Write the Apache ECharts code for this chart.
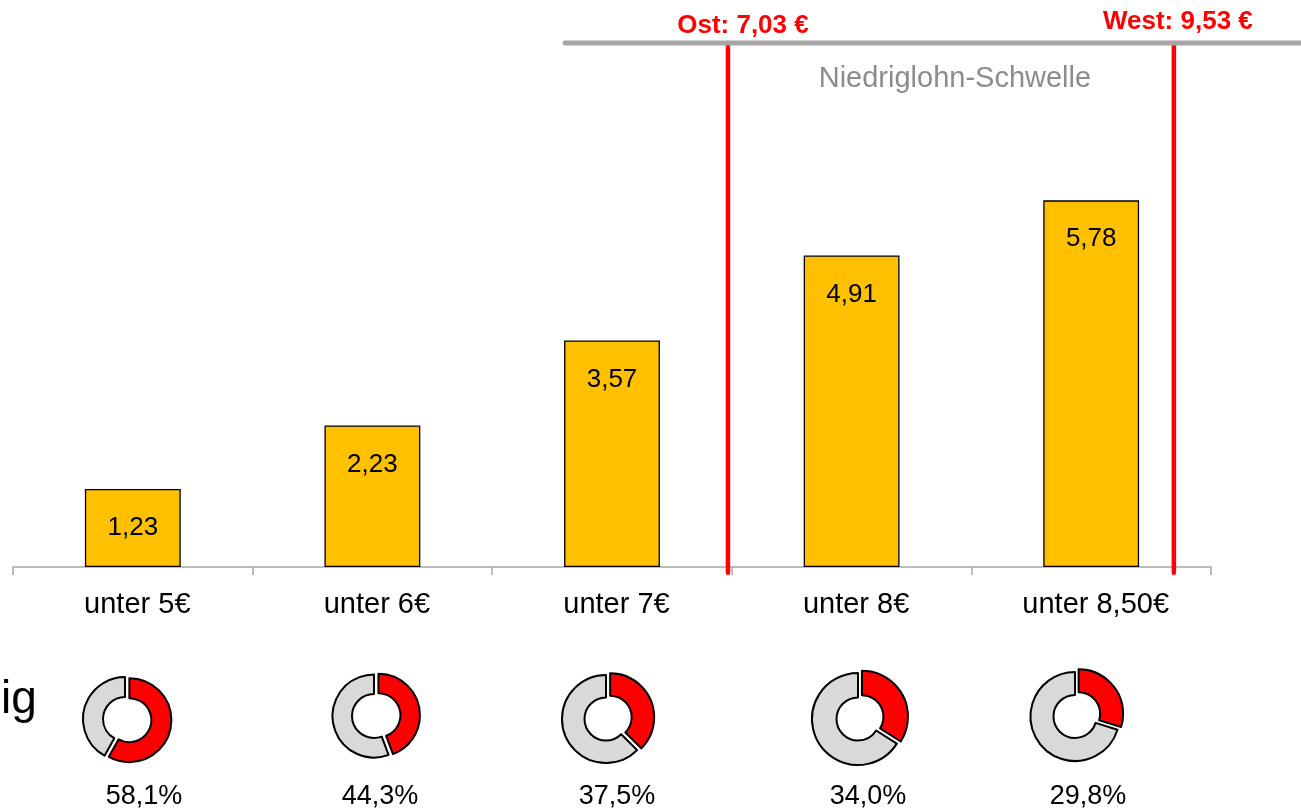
<!DOCTYPE html>
<html>
<head>
<meta charset="utf-8">
<script src="https://cdn.jsdelivr.net/npm/echarts@6/dist/echarts.min.js"></script>
<style>
html,body{margin:0;padding:0;background:#fff;}
#c{width:1301px;height:809px;}
</style>
</head>
<body>
<div id="c"></div>
<script>
// ---- data ----
const categories = ['unter 5€', 'unter 6€', 'unter 7€', 'unter 8€', 'unter 8,50€'];
const values = [1.23, 2.23, 3.57, 4.91, 5.78];
const shares = [58.1, 44.3, 37.5, 34.0, 29.8];
const thresholdNames = ['Ost', 'West'];
const thresholdWages = [7.03, 9.53];
const thresholdPos = [2.984, 4.845];     // position on the category scale (0..5)
const thresholdLevel = 8.26;             // height of the low-wage threshold line
const thresholdSpan = [2.304, 5.38];     // horizontal extent of the threshold line
const thresholdTitle = 'Niedriglohn-Schwelle';
const sideText = 'ig';

const FONT = 'Arial, "Liberation Sans", sans-serif';
const fmt = (v, d) => v.toFixed(d).replace('.', ',');

const chart = echarts.init(document.getElementById('c'), null, {renderer: 'canvas'});

// layout
const GRID_L = 13, GRID_R = 90, GRID_T = 43, GRID_B = 242;
const catWidth = (1301 - GRID_L - GRID_R) / categories.length;
const overlayMax = (1301 - GRID_L) / catWidth;

const donutCenters = [[125, 719], [374, 716], [606, 719], [858, 719], [1075, 716.5]];
const donutOuter = [42, 41.5, 44, 46, 44.5];
const donutInner = [22, 22, 21.5, 21.5, 21.5];
const pctX = [144, 380, 617, 868, 1088];

const series = [];
series.push({
  type: 'bar',
  data: values,
  barWidth: '40%',
  z: 2,
  itemStyle: {color: '#ffc000', borderColor: '#000', borderWidth: 1.3},
  label: {
    show: true, position: ['50%', 39], align: 'center', verticalAlign: 'middle',
    fontFamily: FONT, fontSize: 26, color: '#000',
    formatter: p => fmt(p.value, 2)
  },
  silent: true, animation: false
});
thresholdPos.forEach((x, i) => {
  series.push({
    type: 'line', xAxisIndex: 1, yAxisIndex: 1,
    data: [[x, -0.09], [x, thresholdLevel]],
    symbol: 'none', clip: false, z: 4,
    lineStyle: {color: '#ff0000', width: 4.5, cap: 'round'},
    silent: true, animation: false
  });
});
series.push({
  type: 'line', xAxisIndex: 1, yAxisIndex: 1,
  data: [[thresholdSpan[0], thresholdLevel], [thresholdSpan[1], thresholdLevel]],
  symbol: 'none', clip: false, z: 5,
  lineStyle: {color: '#a6a6a6', width: 5, cap: 'round'},
  silent: true, animation: false
});
shares.forEach((s, i) => {
  series.push({
    type: 'pie',
    center: donutCenters[i],
    radius: [donutInner[i], donutOuter[i]],
    startAngle: 90, clockwise: true,
    selectedMode: 'single', selectedOffset: 4.5,
    avoidLabelOverlap: false,
    label: {show: false}, labelLine: {show: false},
    itemStyle: {borderColor: '#000', borderWidth: 2},
    emphasis: {disabled: true},
    silent: true, animation: false,
    data: [
      {value: s, selected: true, itemStyle: {color: '#ff0000'}},
      {value: +(100 - s).toFixed(1), itemStyle: {color: '#d9d9d9'}}
    ]
  });
});

chart.setOption({
  animation: false,
  grid: [
    {left: GRID_L, right: GRID_R, top: GRID_T, bottom: GRID_B, containLabel: false},
    {left: GRID_L, right: 0, top: GRID_T, bottom: GRID_B, containLabel: false}
  ],
  xAxis: [{
    type: 'category', data: categories, boundaryGap: true, gridIndex: 0,
    axisLine: {show: true, lineStyle: {color: '#a6a6a6', width: 1.5}},
    axisTick: {show: true, length: 8, lineStyle: {color: '#a6a6a6', width: 1.5}},
    axisLabel: {fontFamily: FONT, fontSize: 29, color: '#000', margin: 23, lineHeight: 29, padding: [0, 0, 0, 9]},
    splitLine: {show: false}
  }, {
    type: 'value', gridIndex: 1, min: 0, max: overlayMax, show: false
  }],
  yAxis: [
    {type: 'value', gridIndex: 0, min: 0, max: thresholdLevel, show: false},
    {type: 'value', gridIndex: 1, min: 0, max: thresholdLevel, show: false}
  ],
  series: series
});

// texts positioned from the scales
const graphics = [];
thresholdPos.forEach((x, i) => {
  const p = chart.convertToPixel({xAxisIndex: 1, yAxisIndex: 1}, [x, thresholdLevel]);
  const dx = i === 0 ? 15 : 4;
  const dy = i === 0 ? -17 : -21;
  graphics.push({
    type: 'text', x: p[0] + dx, y: p[1] + dy, z: 10,
    style: {
      text: thresholdNames[i] + ': ' + fmt(thresholdWages[i], 2) + ' €',
      fill: '#ff0000', font: 'bold 26px ' + FONT,
      align: 'center', verticalAlign: 'middle'
    }
  });
});
{
  const a = chart.convertToPixel({xAxisIndex: 1, yAxisIndex: 1}, [thresholdPos[0], thresholdLevel]);
  const b = chart.convertToPixel({xAxisIndex: 1, yAxisIndex: 1}, [thresholdPos[1], thresholdLevel]);
  graphics.push({
    type: 'text', x: (a[0] + b[0]) / 2 + 4, y: a[1] + 36, z: 10,
    style: {text: thresholdTitle, fill: '#8c8c8c', font: '29px ' + FONT, align: 'center', verticalAlign: 'middle'}
  });
}
shares.forEach((s, i) => {
  graphics.push({
    type: 'text', x: pctX[i], y: 797, z: 10,
    style: {text: fmt(s, 1) + '%', fill: '#000', font: '27px ' + FONT, align: 'center', verticalAlign: 'middle'}
  });
});
graphics.push({
  type: 'text', x: 1, y: 700, z: 10,
  style: {text: sideText, fill: '#000', font: '46px ' + FONT, align: 'left', verticalAlign: 'middle'}
});
chart.setOption({graphic: graphics});
</script>
</body>
</html>
